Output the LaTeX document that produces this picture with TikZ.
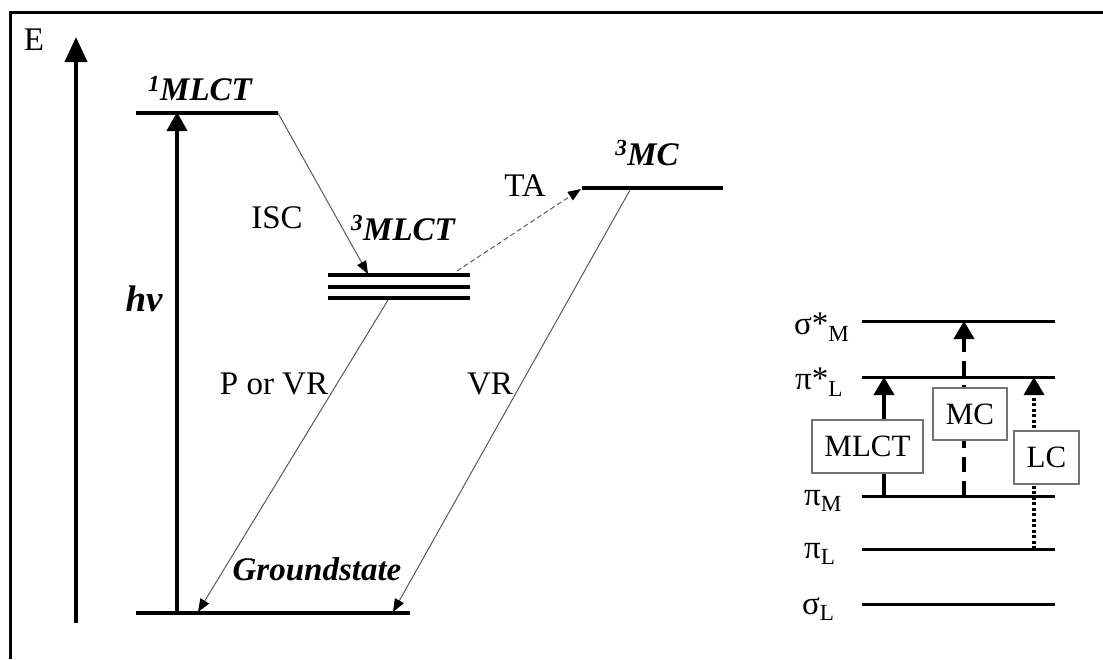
\documentclass[tikz,border=0pt]{standalone}
\usepackage{fontspec}
\setmainfont{Liberation Serif}
\usetikzlibrary{arrows.meta}
\begin{document}
\begin{tikzpicture}[x=1pt,y=-1pt,
  txt/.style={font=\fontsize{33}{37}\selectfont, inner sep=0pt},
  statelbl/.style={font=\fontsize{33}{37}\selectfont\bfseries\itshape, inner sep=0pt},
  lvl/.style={line width=4.5pt},
  tlvl/.style={line width=4pt},
  olvl/.style={line width=3pt},
  thinarrow/.style={draw=black!65, line width=1pt, -{Triangle[width=10pt,length=13pt,color=black]}},
  bigtip/.style={-{Triangle[width=20pt,length=18pt]}},
  boxlbl/.style={draw=black!55, line width=1.2pt, fill=white, inner sep=0pt,
     font=\fontsize{31}{35}\selectfont}
]
\useasboundingbox (0,0) rectangle (1103,659);
% frame
\coordinate (F0) at (10,659);
\coordinate (F1) at (10,12);
\coordinate (F2) at (1104,12);
\draw[line width=3pt] (F0) -- (F1) -- (F2);

% energy axis
\coordinate (E0) at (76,623);
\coordinate (E1) at (76,37);
\draw[line width=4pt, -{Triangle[width=22pt,length=25pt]}] (E0) -- (E1);
\node[txt] (Elbl) at (34,40) {E};

% levels
\coordinate (S1a) at (136,113); \coordinate (S1b) at (278,113);
\coordinate (Ga) at (136,613);  \coordinate (Gb) at (410,613);
\coordinate (T1a) at (328,275); \coordinate (T1b) at (470,275);
\coordinate (T2a) at (328,287); \coordinate (T2b) at (470,287);
\coordinate (T3a) at (328,298); \coordinate (T3b) at (470,298);
\coordinate (Ma) at (582,188);  \coordinate (Mb) at (723,188);
\draw[lvl] (S1a) -- (S1b);
\draw[lvl] (Ga) -- (Gb);
\draw[tlvl] (T1a) -- (T1b);
\draw[tlvl] (T2a) -- (T2b);
\draw[tlvl] (T3a) -- (T3b);
\draw[lvl] (Ma) -- (Mb);

\node[statelbl] (S1lbl) at (200,89) {\textsuperscript{1}MLCT};
\node[statelbl] (T1lbl) at (403,228) {\textsuperscript{3}MLCT};
\node[statelbl] (Mlbl) at (647,153) {\textsuperscript{3}MC};
\node[statelbl] (Glbl) at (317,569) {Groundstate};

% h nu
\coordinate (H0) at (177,613);
\coordinate (H1) at (177,112);
\draw[line width=4pt, -{Triangle[width=20pt,length=19pt]}] (H0) -- (H1);
\node[statelbl, font=\fontsize{37}{40}\selectfont\bfseries\itshape] (Hlbl) at (144,299) {hν};

% transitions
\coordinate (ISC0) at (278,113);
\coordinate (ISC1) at (368,274);
\draw[thinarrow] (ISC0) -- (ISC1);
\node[txt] (ISClbl) at (277,218) {ISC};

\coordinate (TA0) at (457,271);
\coordinate (TA1) at (581,189);
\draw[thinarrow, dashed, dash pattern=on 5pt off 3pt] (TA0) -- (TA1);
\node[txt] (TAlbl) at (525,186) {TA};

\coordinate (P0) at (388,300);
\coordinate (P1) at (198,612);
\draw[thinarrow] (P0) -- (P1);
\node[txt] (Plbl) at (274,384) {P or VR};

\coordinate (V0) at (630,190);
\coordinate (V1) at (393,612);
\draw[thinarrow] (V0) -- (V1);
\node[txt] (Vlbl) at (490,384) {VR};

% orbital diagram
\foreach \n/\y in {sM/321, pL/377, pM/496, qL/549, sL/604}{
  \coordinate (\n a) at (862,\y);
  \coordinate (\n b) at (1055,\y);
  \draw[olvl] (\n a) -- (\n b);
}
\node[txt, anchor=west] (sMlbl) at (794,327) {σ*\textsubscript{M}};
\node[txt, anchor=west] (pLlbl) at (795,382) {π*\textsubscript{L}};
\node[txt, anchor=west] (pMlbl) at (804,501) {π\textsubscript{M}};
\node[txt, anchor=west] (qLlbl) at (804,554) {π\textsubscript{L}};
\node[txt, anchor=west] (sLlbl) at (802,609) {σ\textsubscript{L}};

\coordinate (A0) at (884,496); \coordinate (A1) at (884,377);
\coordinate (B0) at (964,496); \coordinate (B1) at (964,321);
\coordinate (C0) at (1034,549); \coordinate (C1) at (1034,377);
\draw[line width=4pt, bigtip] (A0) -- (A1);
\draw[line width=4pt, bigtip, dash pattern=on 15pt off 9pt] (B0) -- (B1);
\draw[line width=3.5pt, bigtip, dash pattern=on 3pt off 2.5pt] (C0) -- (C1);

\node[boxlbl, minimum width=111pt, minimum height=53pt] (MLCTbox) at (867.5,446.5) {MLCT};
\node[boxlbl, minimum width=74pt, minimum height=52pt] (MCbox) at (970,414) {MC};
\node[boxlbl, minimum width=65pt, minimum height=53pt] (LCbox) at (1046.5,457.5) {LC};
\end{tikzpicture}
\end{document}
